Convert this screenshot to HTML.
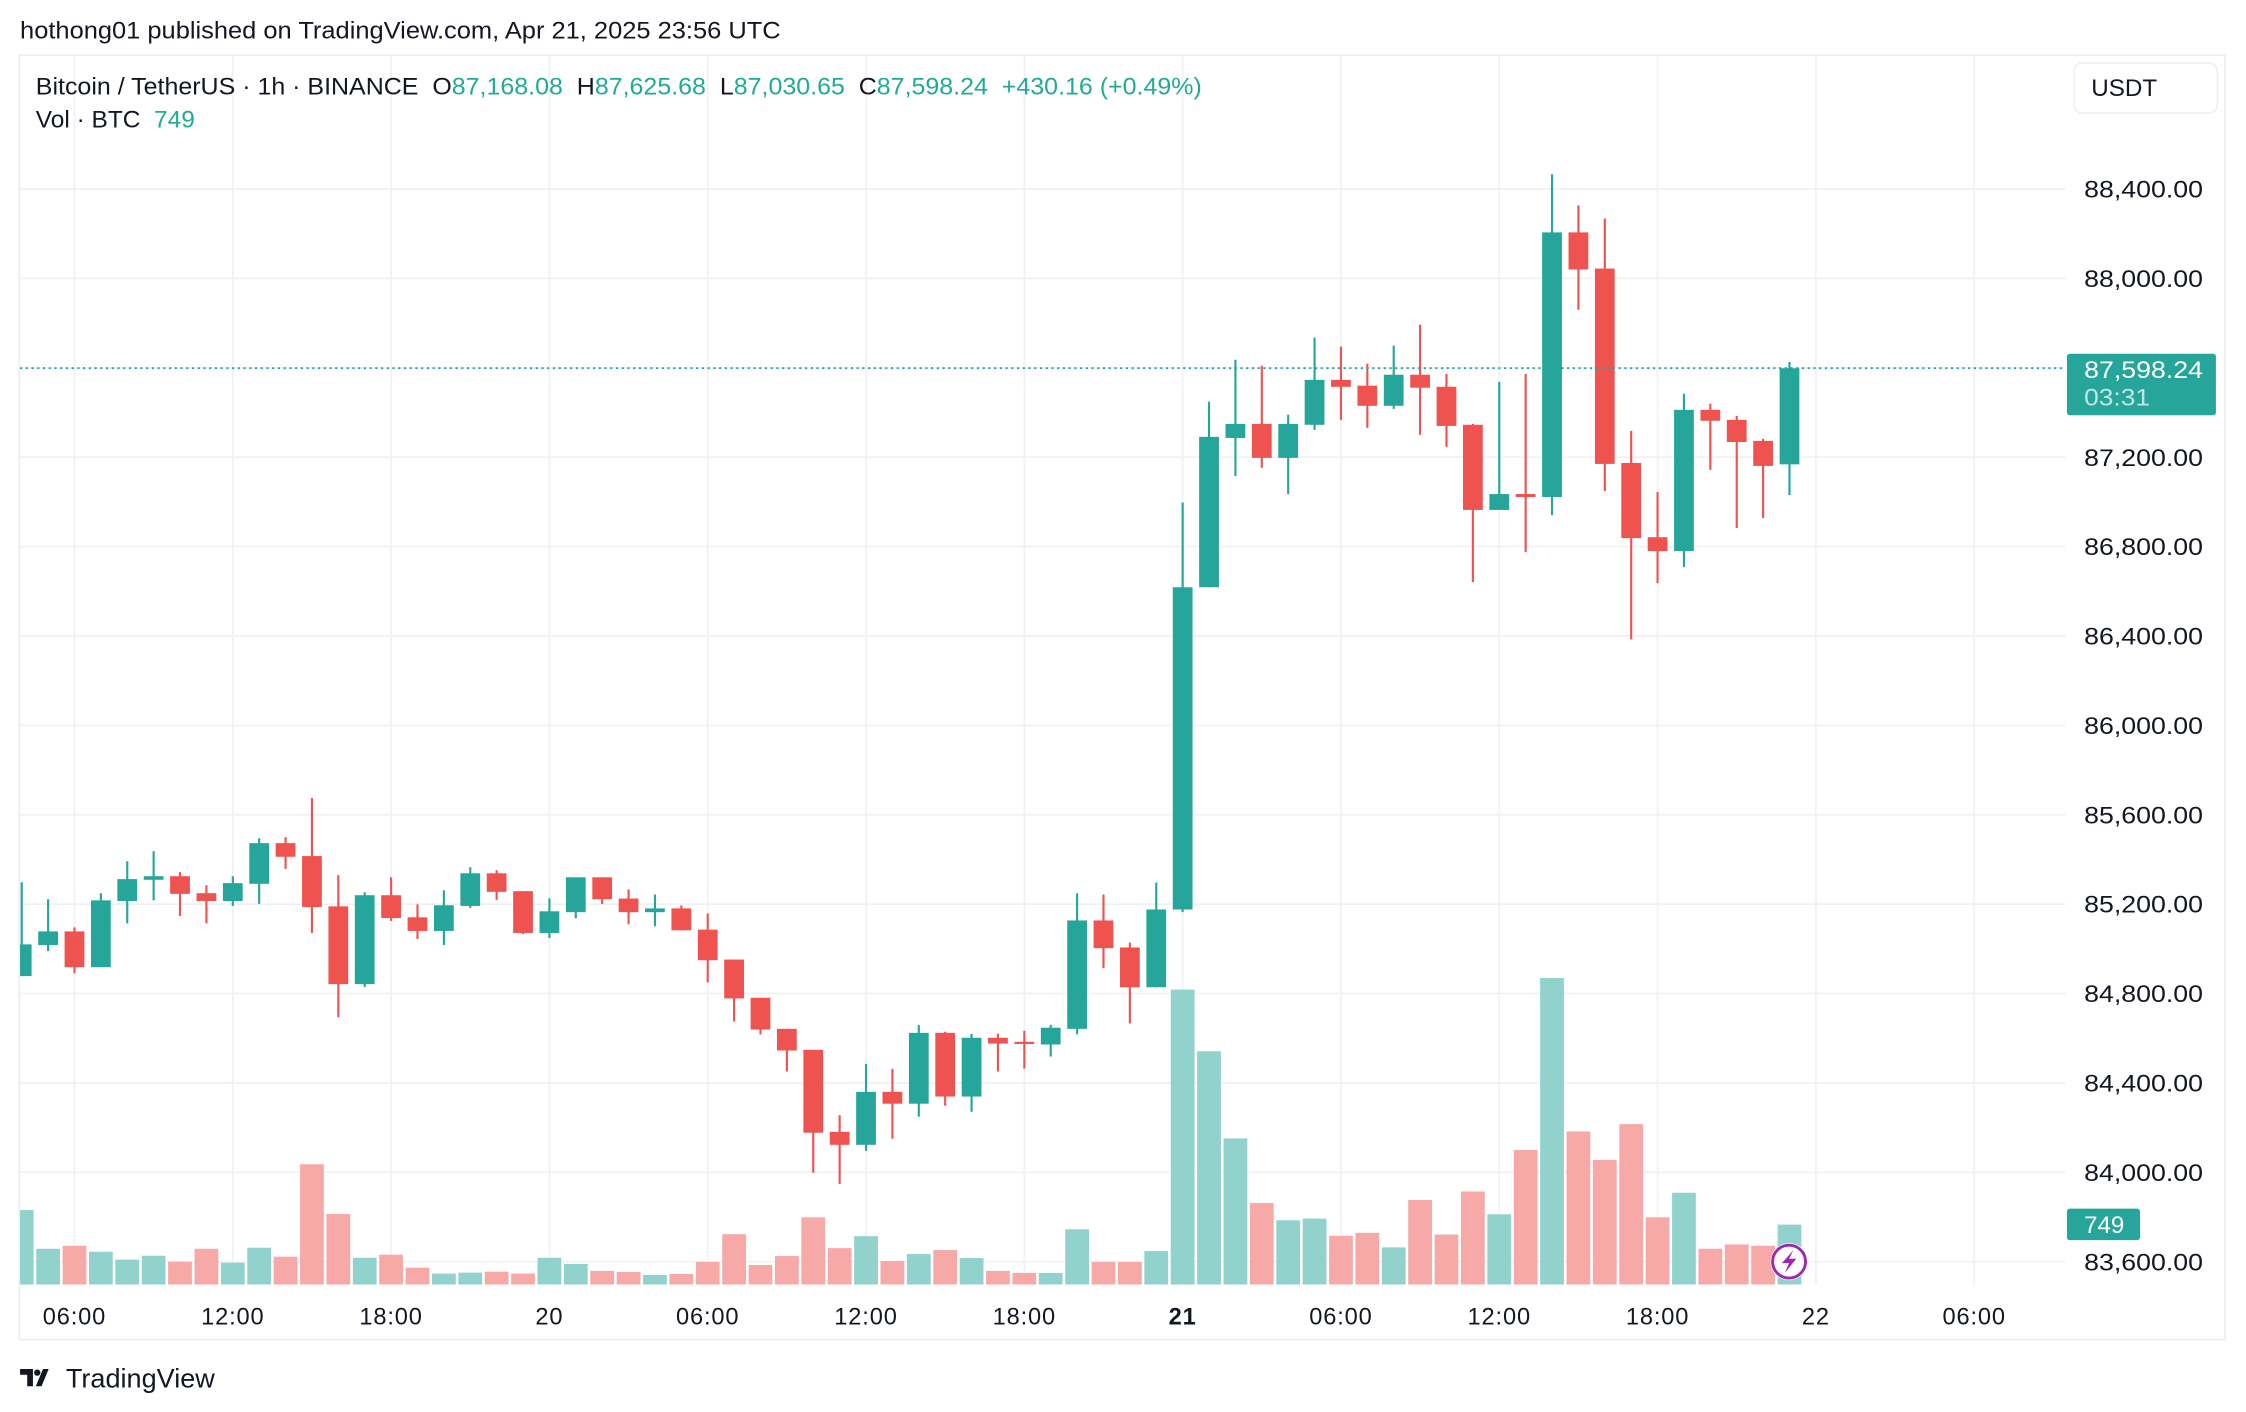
<!DOCTYPE html>
<html><head><meta charset="utf-8"><style>
html,body{margin:0;padding:0;background:#fff;}
svg{display:block;font-family:"Liberation Sans",sans-serif;}
</style></head><body>
<svg id="chart" width="2246" height="1412" viewBox="0 0 1568 986" preserveAspectRatio="none" xmlns="http://www.w3.org/2000/svg">
<defs><clipPath id="plotClip"><rect x="14" y="39" width="1428" height="858"/></clipPath></defs>
<rect x="0" y="0" width="1568" height="986" fill="#fff"/>
<text x="14" y="27" font-size="16.5" fill="#131722" textLength="531" lengthAdjust="spacingAndGlyphs">hothong01 published on TradingView.com, Apr 21, 2025 23:56 UTC</text>
<rect x="13.5" y="38.5" width="1540" height="897" fill="none" stroke="#eceef2" stroke-width="1.2"/>
<g id="grid"></g>
<g id="vols" clip-path="url(#plotClip)"></g>
<g id="candles" clip-path="url(#plotClip)"></g>
<line x1="14" x2="1442" y1="259" y2="259" stroke="#26a69a" stroke-width="1.3" stroke-dasharray="1.5 2.5" id="lastLine"/>
<g id="yaxis"></g>
<g id="xaxis"></g>
<g font-size="16.5">
<text x="25" y="66" fill="#131722" textLength="814" lengthAdjust="spacingAndGlyphs">Bitcoin / TetherUS · 1h · BINANCE&#160;&#160;O<tspan fill="#22ab94">87,168.08</tspan>&#160;&#160;H<tspan fill="#22ab94">87,625.68</tspan>&#160;&#160;L<tspan fill="#22ab94">87,030.65</tspan>&#160;&#160;C<tspan fill="#22ab94">87,598.24</tspan>&#160;&#160;<tspan fill="#22ab94">+430.16 (+0.49%)</tspan></text>
<text x="25" y="89" fill="#131722" textLength="111" lengthAdjust="spacingAndGlyphs">Vol · BTC&#160;&#160;<tspan fill="#22ab94">749</tspan></text>
</g>
<g>
<rect x="1448" y="44" width="100" height="35" rx="6" fill="#fff" stroke="#eceef2"/>
<text x="1460" y="67" font-size="16.5" fill="#131722" textLength="46" lengthAdjust="spacingAndGlyphs">USDT</text>
</g>
<g>
<rect id="tag" x="1443" y="247" width="104" height="43" rx="2" fill="#26a69a"/>
<text x="1455" y="264" font-size="16.5" fill="#fff" textLength="83" lengthAdjust="spacingAndGlyphs">87,598.24</text>
<text x="1455" y="283" font-size="16.5" fill="#bfe6e2" textLength="46" lengthAdjust="spacingAndGlyphs">03:31</text>
</g>
<g>
<rect x="1443" y="844" width="51" height="22" rx="2" fill="#26a69a"/>
<text x="1455" y="861" font-size="16.5" fill="#fff" textLength="28" lengthAdjust="spacingAndGlyphs">749</text>
</g>
<g>
<circle cx="1249" cy="881" r="13" fill="#fff"/>
<circle cx="1249" cy="881" r="11.5" fill="#fff" stroke="#9c27b0" stroke-width="2"/>
<path d="M1252 873 L1244 882 L1249 882 L1246 889 L1254 879 L1249 879 Z" fill="#9c27b0"/>
</g>
<g>
<path d="M14 956 h9 v12 h-4 v-8 h-5 z M25 968 l5 -12 h4 l-5 12 z" fill="#131722"/>
<circle cx="26" cy="958.5" r="2.2" fill="#131722"/>
<text x="46" y="969" font-size="18.5" fill="#131722" textLength="104" lengthAdjust="spacingAndGlyphs">TradingView</text>
</g>
<script>
const hours=[];for(let h=4;h<=71;h++)hours.push(h);
const opens=[84878,85017,85078,84918,85214,85309,85325,85249,85214,85291,85473,85415,85190,84842,85240,85141,85080,85192,85338,85258,85071,
85164,85320,85225,85164,85181,85086,84952,84781,84642,84548,84181,84123,84360,84307,84624,84339,84602,84584,84572,84642,85127,85006,84828,
85176,86618,87286,87349,87197,87345,87546,87520,87430,87569,87515,87345,86964,87035,87022,88206,88044,87174,86842,86780,87412,87367,87273,87168];
const closes=[85020,85078,84918,85217,85312,85325,85246,85214,85294,85473,85412,85187,84842,85240,85138,85080,85195,85338,85255,85071,85168,
85320,85222,85164,85181,85083,84949,84778,84639,84545,84177,84123,84360,84307,84624,84339,84602,84576,84576,84647,85127,85003,84828,85176,
86618,87291,87349,87197,87349,87546,87515,87430,87569,87511,87340,86964,87035,87022,88206,88040,87170,86838,86780,87412,87363,87268,87161,87598];
const highs=[85298,85222,85096,85249,85392,85437,85343,85285,85325,85495,85500,85675,85329,85253,85320,85199,85262,85365,85352,85258,85226,
85320,85320,85266,85243,85194,85158,84952,84781,84642,84548,84256,84485,84463,84660,84629,84620,84620,84633,84660,85248,85243,85028,85297,
86997,87448,87636,87609,87390,87735,87695,87618,87699,87793,87573,87349,87537,87573,88466,88327,88268,87318,87044,87484,87439,87385,87282,87626];
const lows=[84878,84990,84891,84918,85114,85217,85147,85114,85192,85201,85358,85071,84694,84829,85125,85044,85017,85183,85219,85066,85048,
85137,85200,85110,85101,85083,84850,84675,84617,84451,83998,83948,84096,84150,84249,84298,84271,84451,84464,84518,84617,84913,84666,84828,
85164,86618,87116,87152,87035,87322,87367,87331,87416,87300,87246,86641,86964,86775,86941,87860,87049,86385,86636,86708,87143,86883,86928,87031];
const volumes=[931,447,484,410,311,360,286,447,273,460,348,1503,882,335,373,211,137,149,161,137,335,
257,170,157,120,132,282,629,244,356,840,455,604,294,381,431,331,170,145,145,691,282,282,418,
3685,2915,1826,1018,803,824,609,646,464,1056,625,1163,878,1681,3830,1913,1557,2004,840,1147,447,501,484,749];
const priceTicks=[88400,88000,87600,87200,86800,86400,86000,85600,85200,84800,84400,84000,83600];
const timeTickHours=[6,12,18,24,30,36,42,48,54,60,66,72,78];
const timeTickLabels=["06:00","12:00","18:00","20","06:00","12:00","18:00","21","06:00","12:00","18:00","22","06:00"];
const lastPrice=87598.24;

const NS="http://www.w3.org/2000/svg";
const yP=p=>132+(88400-p)*0.15605;
const xH=h=>52+(h-6)*18.42;
const volBase=897, volScale=0.05589;
const UP="#26a69a", DN="#ef5350";
function mk(tag,attrs,parent){const e=document.createElementNS(NS,tag);for(const k in attrs)e.setAttribute(k,attrs[k]);parent.appendChild(e);return e;}
const grid=document.getElementById('grid'),yaxis=document.getElementById('yaxis'),xaxis=document.getElementById('xaxis');
priceTicks.forEach(p=>{
  const l=mk('line',{x1:14,x2:1442,y1:yP(p),y2:yP(p),stroke:'#f0f1f4','stroke-width':1.2},grid);
  
  
  const t=mk('text',{x:1455,y:yP(p)+6,'font-size':16.5,fill:'#131722',textLength:83,lengthAdjust:'spacingAndGlyphs'},yaxis);
  
  
  t.textContent=p.toLocaleString('en-US',{minimumFractionDigits:2});
});
timeTickHours.forEach((h,i)=>{
  const l=mk('line',{x1:xH(h),x2:xH(h),y1:39,y2:897,stroke:'#f0f1f4','stroke-width':1.2},grid);
  
  
  const lab=timeTickLabels[i];
  const t=mk('text',{x:xH(h),y:925,'font-size':16.5,fill:'#131722','text-anchor':'middle','letter-spacing':0.6,'font-weight':lab==="21"?'bold':'normal'},xaxis);
  
  
  t.textContent=lab;
});
const vg=document.getElementById('vols'),cg=document.getElementById('candles');
hours.forEach((h,i)=>{
  const up=closes[i]>=opens[i];
  const x=xH(h);
  const vh=volumes[i]*volScale;
  const v=mk('rect',{x:x-8.3,y:volBase-vh,width:16.6,height:vh,fill:up?'#92d2cc':'#f7a9a7'},vg);
  
  
  const c=up?UP:DN;
  const w=mk('line',{x1:x,x2:x,y1:yP(highs[i]),y2:yP(lows[i]),stroke:c,'stroke-width':1.5},cg);
  
  
  const top=yP(Math.max(opens[i],closes[i])),bot=yP(Math.min(opens[i],closes[i]));
  const b=mk('rect',{x:x-6.9,y:top,width:13.8,height:Math.max(1.5,bot-top),fill:c},cg);
  
  
});
const ll=document.getElementById('lastLine');ll.setAttribute('y1',yP(lastPrice));ll.setAttribute('y2',yP(lastPrice));
</script>
</svg>
</body></html>
